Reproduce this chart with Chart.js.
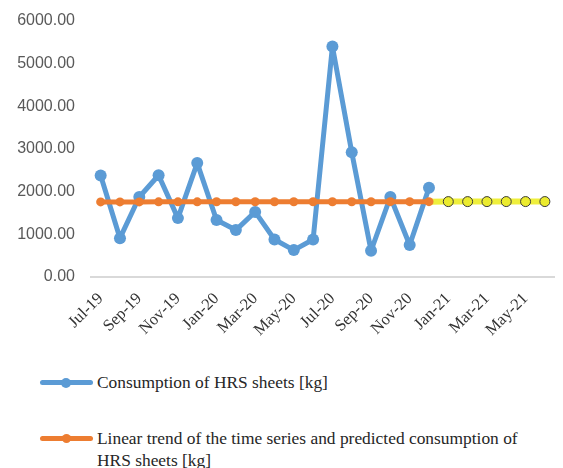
<!DOCTYPE html>
<html>
<head>
<meta charset="utf-8">
<script src="https://cdn.jsdelivr.net/npm/chart.js@4/dist/chart.umd.min.js"></script>
<style>
  html, body { margin: 0; padding: 0; background: #fff; }
  #wrap { position: relative; width: 563px; height: 468px; overflow: hidden; }
  #chart { position: absolute; left: 0; top: 0; }
  .leg { position: absolute; left: 0; font-family: "Liberation Serif", "Times New Roman", serif;
         font-size: 17.4px; color: #262626; line-height: 22px; }
  .leg .line { position: absolute; left: 40px; width: 53px; height: 5px; border-radius: 3px; }
  .leg .dot { position: absolute; left: 61px; width: 10px; height: 10px; border-radius: 50%; }
  .leg .txt { position: absolute; left: 97px; white-space: nowrap; }
</style>
</head>
<body>
<div id="wrap">
  <canvas id="chart" width="563" height="350"></canvas>
  <div class="leg" id="leg1" style="top:371px;">
    <div class="line" style="top:9px;background:#5B9BD5;"></div>
    <div class="dot" style="top:6.5px;background:#5B9BD5;"></div>
    <div class="txt" style="top:0;">Consumption of HRS sheets [kg]</div>
  </div>
  <div class="leg" id="leg2" style="top:427px;">
    <div class="line" style="top:9px;background:#ED7D31;"></div>
    <div class="dot" style="top:7px;width:9px;height:9px;left:62px;background:#ED7D31;"></div>
    <div class="txt" style="top:0;">Linear trend of the time series and predicted consumption of<br>HRS sheets [kg]</div>
  </div>
</div>
<script>
// Months on the category axis
const months = ['Jul-19','Aug-19','Sep-19','Oct-19','Nov-19','Dec-19',
                'Jan-20','Feb-20','Mar-20','Apr-20','May-20','Jun-20',
                'Jul-20','Aug-20','Sep-20','Oct-20','Nov-20','Dec-20',
                'Jan-21','Feb-21','Mar-21','Apr-21','May-21','Jun-21'];

// Monthly consumption of HRS sheets [kg]
const consumption = [2380, 910, 1875, 2385, 1380, 2670,
                     1335, 1100, 1525, 880, 630, 880,
                     5405, 2925, 615, 1875, 750, 2090];

// Linear trend over the observed months
const trend = [1760, 1760, 1760, 1762, 1762, 1762,
               1763, 1763, 1763, 1764, 1764, 1764,
               1765, 1765, 1765, 1766, 1766, 1766];

// Predicted consumption (starts from the last trend value)
const forecastStart = 1766;
const forecast = [1767, 1767, 1767, 1768, 1768, 1768];

// Labelled y ticks
const yTicks = [0, 1000, 2000, 3000, 4000, 5000, 6000];

const pad = n => new Array(n).fill(null);
const forecastSeries = pad(trend.length - 1).concat([forecastStart], forecast);

const CHART_H = 350, AXIS_Y = 277, PLOT_LEFT = 91;

new Chart(document.getElementById('chart'), {
  type: 'line',
  data: {
    labels: months,
    datasets: [
      {
        label: 'Linear trend of the time series and predicted consumption of HRS sheets [kg]',
        data: trend,
        borderColor: '#ED7D31', backgroundColor: '#ED7D31',
        borderWidth: 5, pointRadius: 4.5, pointBorderWidth: 0,
        borderJoinStyle: 'round', borderCapStyle: 'round',
        order: 1
      },
      {
        label: 'Forecast',
        data: forecastSeries,
        borderColor: '#EFEF3C', backgroundColor: '#EBEB2E',
        borderWidth: 6,
        pointRadius: ctx => ctx.dataIndex < trend.length ? 0 : 5,
        pointBorderColor: '#3A3A3A', pointBorderWidth: 1,
        order: 2
      },
      {
        label: 'Consumption of HRS sheets [kg]',
        data: consumption,
        borderColor: '#5B9BD5', backgroundColor: '#5B9BD5',
        borderWidth: 5, pointRadius: 6, pointBorderWidth: 0,
        borderJoinStyle: 'round', borderCapStyle: 'round',
        order: 3
      }
    ]
  },
  options: {
    responsive: false,
    animation: false,
    layout: { padding: { top: 21, right: 0, left: 0, bottom: 0 } },
    plugins: { legend: { display: false }, tooltip: { enabled: false } },
    scales: {
      x: {
        offset: true,
        grid: { display: false },
        border: { display: true, color: '#D9D9D9', width: 2 },
        ticks: {
          autoSkip: false, maxRotation: 45, minRotation: 45,
          color: '#333', padding: 4,
          font: { family: '"Liberation Serif", "Times New Roman", serif', size: 16.5 },
          callback: function (v, i) { return i % 2 === 0 ? this.getLabelForValue(v) : ''; }
        },
        afterFit: s => { s.height = CHART_H - AXIS_Y; }
      },
      y: {
        min: 0, max: 6000,
        grid: { display: false },
        border: { display: false },
        afterBuildTicks: s => { s.ticks = yTicks.map(v => ({ value: v })); },
        ticks: {
          color: '#595959', padding: 8,
          font: { family: '"Liberation Sans", Arial, sans-serif', size: 16 },
          callback: v => Number(v).toFixed(2)
        },
        afterFit: s => { s.width = PLOT_LEFT; }
      }
    }
  }
});
</script>
</body>
</html>
